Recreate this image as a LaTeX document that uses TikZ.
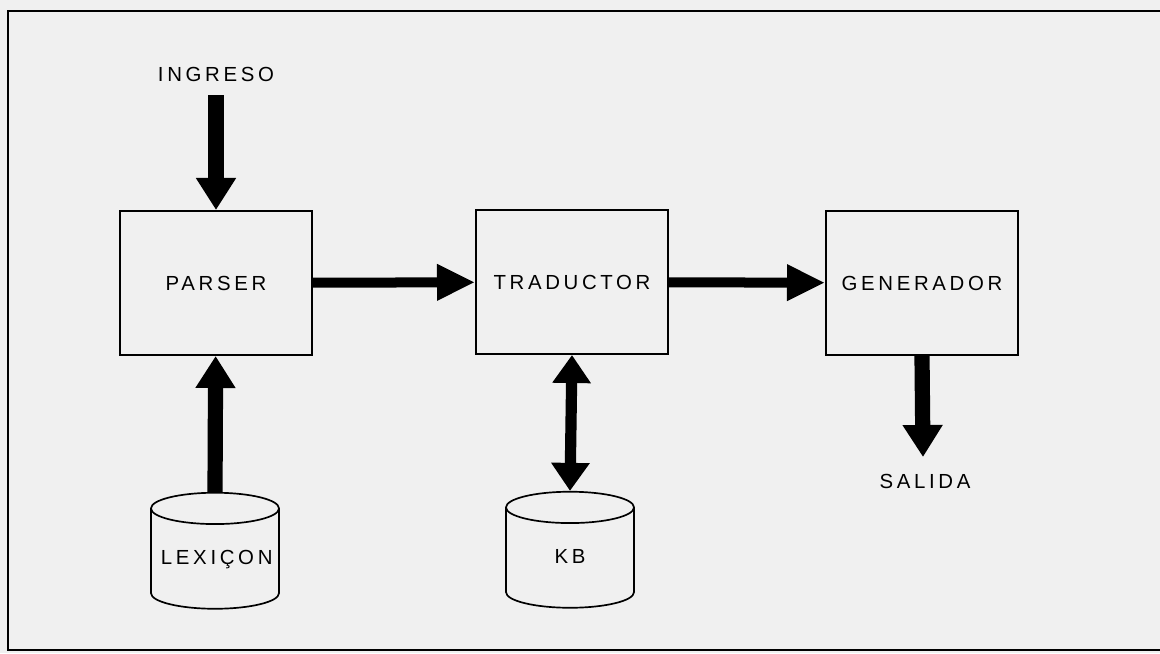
\documentclass[tikz,border=0pt]{standalone}
\usepackage{fontspec}
\setmainfont{Liberation Sans}[LetterSpace=18]
\usetikzlibrary{positioning,shapes.geometric,arrows.meta}
\newcommand{\boxw}{4.8cm}
\newcommand{\boxh}{3.6cm}

\begin{document}
\begin{tikzpicture}[x=0.025cm, y=-0.025cm, font=\fontsize{14.5}{16}\selectfont]
  \tikzset{module/.style={draw, line width=1.4pt, minimum width=\boxw, minimum height=\boxh}}
  \tikzset{store/.style={draw, cylinder, shape border rotate=90, aspect=0.29, line width=1.2pt, minimum width=3.2cm, minimum height=2.9cm, inner sep=0pt, text height=10.5pt, text depth=3pt, text width=2.7cm, align=center}}
  \tikzset{flow/.style={line width=0.25cm, -{Triangle[length=0.95cm, width=0.85cm]}}}
  \tikzset{feed/.style={line width=0.38cm, -{Triangle[length=0.8cm, width=0.95cm]}}}
  \useasboundingbox[fill=black!6] (0,0) rectangle (1160,653);
  \draw[line width=2pt] (1170,11) -- (8,11) -- (8,650) -- (1170,650);
  \node[module] (parser) at (216,283) {PARSER};
  \node[module] (traductor) at (572,282) {TRADUCTOR};
  \node[module] (generador) at (922,283) {GENERADOR};
  \node[store] (lexicon) at (215,559) {LEXIÇON};
  \node[store] (kb) at (570,558) {KB};
  \node (ingreso) at (216,74) {INGRESO};
  \node (salida) at (925,481) {SALIDA};
  \coordinate (in) at (216,95);
  \coordinate (out) at (923,457);
  \draw[feed] (in) -- (parser);
  \draw[feed] (lexicon.top) -- (parser);
  \draw[flow] (parser) -- (traductor);
  \draw[flow] (traductor) -- (generador);
  \draw[line width=0.28cm, {Triangle[length=0.7cm, width=0.92cm]}-{Triangle[length=0.7cm, width=0.92cm]}] (kb.top) -- (traductor.south);
  \draw[feed] (generador.south) -- (out);
\end{tikzpicture}
\end{document}
